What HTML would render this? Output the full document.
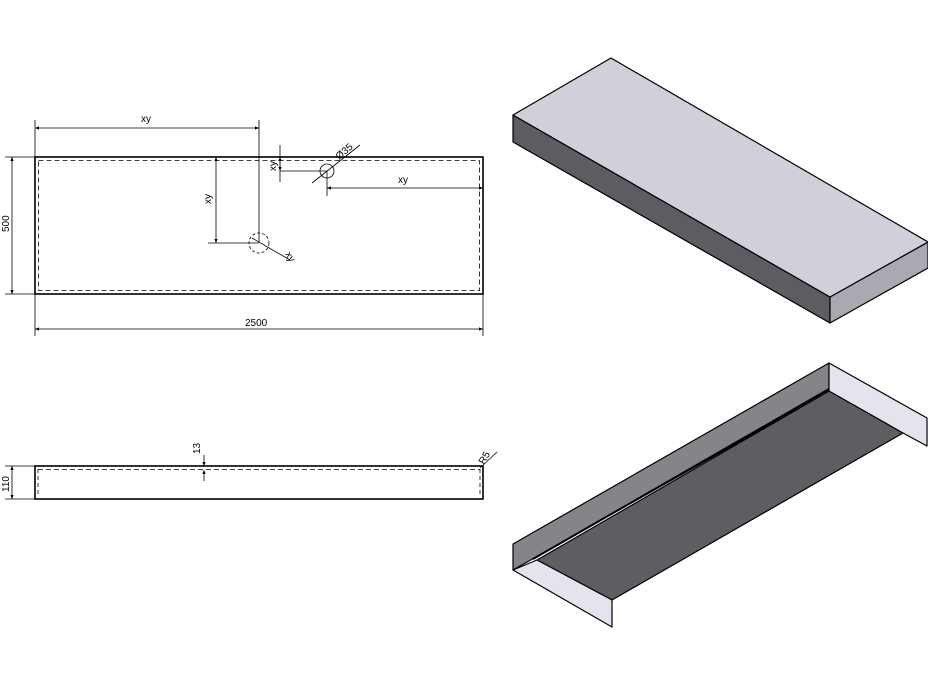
<!DOCTYPE html>
<html><head><style>body{margin:0;background:#fff}svg{display:block}text{font-family:"Liberation Sans",sans-serif;font-size:10px;fill:#000}</style></head>
<body>
<svg width="928" height="686" viewBox="0 0 928 686">
<defs><marker id="a" viewBox="0 0 10 10" refX="10" refY="5" markerWidth="7" markerHeight="5" orient="auto-start-reverse"><path d="M0,1 L10,5 L0,9z" fill="#000"/></marker></defs>
<g stroke="#000" fill="none" stroke-width="0.8">
<rect x="35" y="157" width="448" height="137" stroke-width="1.6"/>
<rect x="38.5" y="160.5" width="441" height="130" stroke-dasharray="5,3"/>
<line x1="35" y1="120" x2="35" y2="336"/>
<line x1="483" y1="294" x2="483" y2="336"/>
<line x1="259" y1="120" x2="259" y2="242"/>
<line x1="35" y1="128" x2="259" y2="128" marker-start="url(#a)" marker-end="url(#a)"/>
<line x1="35" y1="329" x2="483" y2="329" marker-start="url(#a)" marker-end="url(#a)"/>
<line x1="5" y1="157" x2="35" y2="157"/><line x1="5" y1="294" x2="35" y2="294"/>
<line x1="12" y1="157" x2="12" y2="294" marker-start="url(#a)" marker-end="url(#a)"/>
<line x1="216" y1="157" x2="216" y2="243" marker-start="url(#a)" marker-end="url(#a)"/>
<line x1="208" y1="243" x2="259" y2="243"/>
<circle cx="259" cy="243" r="10" stroke-dasharray="3,2"/>
<line x1="252" y1="238" x2="290" y2="260"/>
<circle cx="327" cy="171" r="7"/>
<line x1="280" y1="145" x2="280" y2="182"/>
<line x1="280" y1="157" x2="280" y2="171" marker-start="url(#a)" marker-end="url(#a)"/>
<line x1="280" y1="171" x2="327" y2="171"/>
<line x1="327" y1="171" x2="327" y2="196"/>
<line x1="327" y1="188" x2="483" y2="188" marker-start="url(#a)" marker-end="url(#a)"/>
<line x1="312" y1="183" x2="360" y2="145"/>
<rect x="35" y="466" width="448" height="33" stroke-width="1.6"/>
<line x1="38" y1="469.5" x2="480" y2="469.5" stroke-dasharray="5,3"/>
<line x1="38" y1="469" x2="38" y2="496" stroke-dasharray="4,3"/>
<line x1="480" y1="469" x2="480" y2="496" stroke-dasharray="4,3"/>
<line x1="5" y1="466" x2="35" y2="466"/><line x1="5" y1="499" x2="35" y2="499"/>
<line x1="12" y1="466" x2="12" y2="499" marker-start="url(#a)" marker-end="url(#a)"/>
<line x1="204" y1="455" x2="204" y2="466" marker-end="url(#a)"/>
<line x1="204" y1="481" x2="204" y2="470" marker-end="url(#a)"/>
<line x1="480" y1="468" x2="497" y2="452"/>
</g>
<text x="141" y="122">xy</text>
<text x="245" y="326">2500</text>
<text transform="translate(9,232) rotate(-90)">500</text>
<text transform="translate(211,204) rotate(-90)">xy</text>
<text transform="translate(276,171) rotate(-90)">xy</text>
<text x="398" y="183">xy</text>
<text transform="translate(285,254) rotate(60)">xy</text>
<text transform="translate(339,160) rotate(-40)">Ø35</text>
<text transform="translate(9,492) rotate(-90)">110</text>
<text transform="translate(200,454) rotate(-90)">13</text>
<text transform="translate(484,465) rotate(-60)">R5</text>
<g stroke="#000" stroke-width="1.2" stroke-linejoin="round">
<polygon points="513,115 830,297 830,323 513,142" fill="#5c5c62"/>
<polygon points="830,297 928,242 928,268 830,323" fill="#a9a9b1"/>
<polygon points="513,115 611,58 928,242 830,297" fill="#d0d0da"/>
</g>
<g stroke="#000" stroke-width="1.2" stroke-linejoin="round">
<polygon points="513,544 829,363 829,391 513,570" fill="#858589"/>
<polygon points="829,391 903,433 612,600 537,560" fill="#5e5e62"/>
<polygon points="829,363 927,418 927,446 903,433 829,391" fill="#e4e4ee"/>
<polygon points="513,570 537,560 612,600 612,627" fill="#e4e4ee"/>
<line x1="533" y1="559" x2="829" y2="389" stroke-width="2"/>
</g>
</svg>
</body></html>
